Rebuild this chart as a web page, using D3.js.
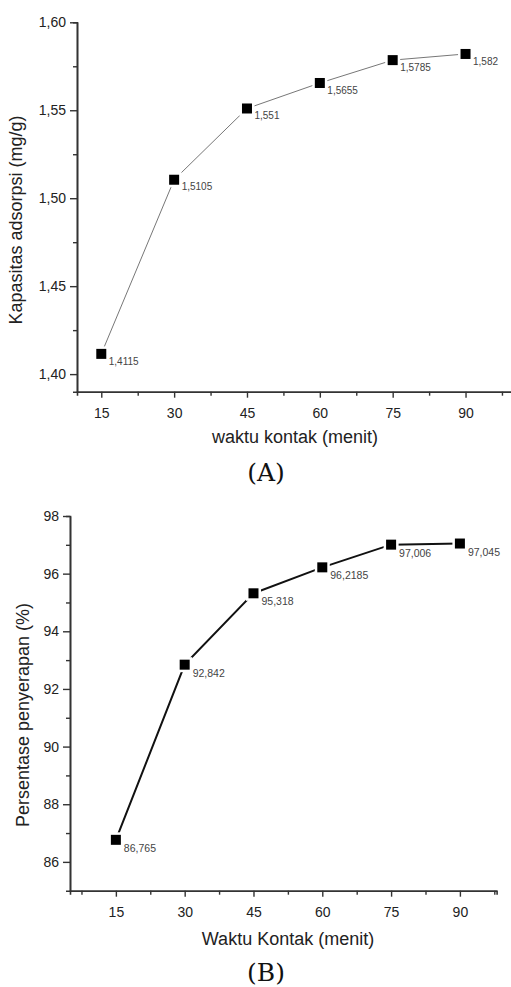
<!DOCTYPE html>
<html>
<head>
<meta charset="utf-8">
<script src="https://cdnjs.cloudflare.com/ajax/libs/d3/7.8.5/d3.min.js"></script>
<style>
	body { margin: 0; background: #fff; }
	svg { display: block; }
	text { font-family: "Liberation Sans", Arial, sans-serif; fill: #222; }
	.caption { font-family: "DejaVu Serif", "Liberation Serif", serif; fill: #111; }
</style>
</head>
<body>
<script>

// contact time (menit), same for both graphs
var waktu = [15, 30, 45, 60, 75, 90];

// graph A: adsorption capacity (mg/g)
var kapasitas = [1.4115, 1.5105, 1.551, 1.5655, 1.5785, 1.582];

// graph B: removal percentage (%)
var persentase = [86.765, 92.842, 95.318, 96.2185, 97.006, 97.045];

// tick values
var xTicks = [15, 30, 45, 60, 75, 90];
var xMinorA = [22.5, 37.5, 52.5, 67.5, 82.5, 97.5];
var xMinorB = [7.5, 22.5, 37.5, 52.5, 67.5, 82.5, 97.5];
var yTicksA = [1.40, 1.45, 1.50, 1.55, 1.60];
var yMinorA = [1.425, 1.475, 1.525, 1.575];
var yTicksB = [86, 88, 90, 92, 94, 96, 98];
var yMinorB = [87, 89, 91, 93, 95, 97];


window.onload = function() {
	var svg = d3.select("body")
				.append("svg")
				.attr("width", 511)
				.attr("height", 987);

	// comma as decimal separator (Indonesian)
	var locale = d3.formatLocale({decimal: ",", thousands: ".", grouping: [3], currency: ["", ""]});

	drawGraph(svg, {
		xs: waktu, ys: kapasitas,
		xDomain: [10, 100], xRange: [77, 514.1],
		yDomain: [1.39, 1.60], yRange: [391.7, 22.3],
		xMinor: xMinorA, yTicks: yTicksA, yMinor: yMinorA,
		yFormat: locale.format(".2f"),
		lineColor: "#777", lineWidth: 1,
		labelDx: 7.5, labelDy: 10.7, labelSize: 10,
		xTitle: "waktu kontak (menit)", xTitleY: 443, xTitleX: 295,
		yTitle: "Kapasitas adsorpsi (mg/g)", yTitleX: 22, yTitleY: 220,
		caption: "(A)", captionY: 481
	});

	drawGraph(svg, {
		xs: waktu, ys: persentase,
		xDomain: [5, 98], xRange: [70, 496.6],
		yDomain: [85, 98], yRange: [890.7, 516],
		xMinor: xMinorB, yTicks: yTicksB, yMinor: yMinorB,
		yFormat: locale.format("d"),
		lineColor: "#111", lineWidth: 2,
		labelDx: 8, labelDy: 12, labelSize: 10.5,
		xTitle: "Waktu Kontak (menit)", xTitleY: 945, xTitleX: 288,
		yTitle: "Persentase penyerapan (%)", yTitleX: 28.5, yTitleY: 715,
		caption: "(B)", captionY: 981
	});
};


function drawGraph(svg, opt) {
	var g = svg.append("g");

	var xScale = d3.scaleLinear().domain(opt.xDomain).range(opt.xRange);
	var yScale = d3.scaleLinear().domain(opt.yDomain).range(opt.yRange);

	var bottom = opt.yRange[0];
	var left = opt.xRange[0];

	// minor ticks first, then the main axes over them
	g.append("g")
	 .attr("transform", "translate(0," + bottom + ")")
	 .call(d3.axisBottom(xScale).tickValues(opt.xMinor).tickSize(4).tickFormat(""))
	 .call(styleAxis);

	g.append("g")
	 .attr("transform", "translate(" + left + ",0)")
	 .call(d3.axisLeft(yScale).tickValues(opt.yMinor).tickSize(4).tickFormat(""))
	 .call(styleAxis);

	var xAxis = g.append("g")
				 .attr("transform", "translate(0," + bottom + ")")
				 .call(d3.axisBottom(xScale).tickValues(xTicks).tickSize(6).tickSizeOuter(0).tickPadding(7))
				 .call(styleAxis);

	var yAxis = g.append("g")
				 .attr("transform", "translate(" + left + ",0)")
				 .call(d3.axisLeft(yScale).tickValues(opt.yTicks).tickSize(7).tickSizeOuter(0).tickPadding(4).tickFormat(opt.yFormat))
				 .call(styleAxis);

	xAxis.selectAll("text").style("font-size", "14px").attr("dy", "0.95em");
	yAxis.selectAll("text").style("font-size", "14px");

	// axis titles
	g.append("text")
	 .attr("x", opt.xTitleX)
	 .attr("y", opt.xTitleY)
	 .style("text-anchor", "middle")
	 .style("font-size", "18px")
	 .text(opt.xTitle);

	g.append("text")
	 .attr("transform", "translate(" + opt.yTitleX + "," + opt.yTitleY + ") rotate(-90)")
	 .style("text-anchor", "middle")
	 .style("font-size", "18px")
	 .text(opt.yTitle);

	// data line
	var points = opt.xs.map(function(x, i) { return [x, opt.ys[i]]; });

	var line = d3.line()
				 .x(function(d) { return xScale(d[0]); })
				 .y(function(d) { return yScale(d[1]); });

	g.append("path")
	 .datum(points)
	 .attr("d", line)
	 .attr("fill", "none")
	 .attr("stroke", opt.lineColor)
	 .attr("stroke-width", opt.lineWidth);

	// white gap round the markers, like the origin plot
	g.selectAll(".halo")
	 .data(points)
	 .enter()
	 .append("rect")
	 .attr("class", "halo")
	 .attr("x", function(d) { return xScale(d[0]) - 7.5; })
	 .attr("y", function(d) { return yScale(d[1]) - 7.5; })
	 .attr("width", 15)
	 .attr("height", 15)
	 .attr("fill", "#fff");

	g.selectAll(".marker")
	 .data(points)
	 .enter()
	 .append("rect")
	 .attr("class", "marker")
	 .attr("x", function(d) { return xScale(d[0]) - 5; })
	 .attr("y", function(d) { return yScale(d[1]) - 5; })
	 .attr("width", 10)
	 .attr("height", 10)
	 .attr("fill", "#000");

	// value labels
	g.selectAll(".val")
	 .data(points)
	 .enter()
	 .append("text")
	 .attr("class", "val")
	 .attr("x", function(d) { return xScale(d[0]) + opt.labelDx; })
	 .attr("y", function(d) { return yScale(d[1]) + opt.labelDy; })
	 .style("font-size", opt.labelSize + "px")
	 .style("fill", "#444")
	 .text(function(d) { return String(d[1]).replace(".", ","); });

	// caption under graph
	g.append("text")
	 .attr("class", "caption")
	 .attr("x", 266)
	 .attr("y", opt.captionY)
	 .style("text-anchor", "middle")
	 .style("font-size", "25px")
	 .text(opt.caption);
}


function styleAxis(sel) {
	sel.select(".domain").attr("stroke", "#333").attr("stroke-width", 1.6);
	sel.selectAll(".tick line").attr("stroke", "#333").attr("stroke-width", 1.4);
	sel.selectAll(".tick text").style("fill", "#222").style("font-family", "'Liberation Sans', Arial, sans-serif");
}

</script>
</body>
</html>
